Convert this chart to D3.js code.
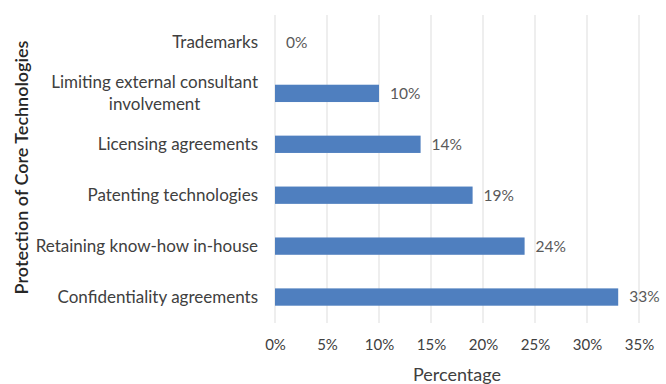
<!DOCTYPE html>
<html>
<head>
<meta charset="utf-8">
<script src="https://cdn.jsdelivr.net/npm/d3@7"></script>
<style>
  html, body { margin: 0; padding: 0; background: #ffffff; }
  svg { display: block; }
  text { font-family: Lato, "Open Sans", sans-serif; }
</style>
</head>
<body>
<svg id="chart" width="666" height="384"></svg>
<script>
// Methods used to protect core technologies (share of respondents, %)
const categories = [
  "Trademarks",
  "Limiting external consultant involvement",
  "Licensing agreements",
  "Patenting technologies",
  "Retaining know-how in-house",
  "Confidentiality agreements"
];
const categoryLines = [
  ["Trademarks"],
  ["Limiting external consultant", "involvement"],
  ["Licensing agreements"],
  ["Patenting technologies"],
  ["Retaining know-how in-house"],
  ["Confidentiality agreements"]
];
const values = [0, 10, 14, 19, 24, 33];
const xTicks = [0, 5, 10, 15, 20, 25, 30, 35];
const xTitle = "Percentage";
const yTitle = "Protection of Core Technologies";

const svg = d3.select("#chart");
const plotLeft = 275, plotRight = 639, plotTop = 17, plotBottom = 322.5;

const x = d3.scaleLinear().domain([0, 35]).range([plotLeft, plotRight]);
const y = d3.scaleBand().domain(categories).range([plotTop, plotBottom])
  .paddingInner(0.66).paddingOuter(0.33);

// vertical gridlines
svg.append("g").selectAll("line").data(xTicks).join("line")
  .attr("x1", d => x(d)).attr("x2", d => x(d))
  .attr("y1", 15).attr("y2", 323)
  .attr("stroke", "#e3e3e3").attr("stroke-width", 1.2);

// x-axis tick labels
const xAxis = d3.axisBottom(x).tickValues(xTicks).tickSize(0).tickPadding(0)
  .tickFormat(d => d + "%");
const gx = svg.append("g").attr("transform", "translate(0,339)").call(xAxis);
gx.select(".domain").remove();
gx.selectAll("text").attr("font-size", 15).attr("fill", "#404040")
  .attr("font-family", "Lato, 'Open Sans', sans-serif");

// bars
svg.append("g").selectAll("rect").data(values).join("rect")
  .attr("x", x(0))
  .attr("y", (d, i) => y(categories[i]))
  .attr("width", d => x(d) - x(0))
  .attr("height", y.bandwidth())
  .attr("fill", "#4f7fbf");

// value labels
svg.append("g").selectAll("text").data(values).join("text")
  .attr("x", d => x(d) + 11)
  .attr("y", (d, i) => y(categories[i]) + y.bandwidth() / 2)
  .attr("dy", "0.35em")
  .attr("font-size", 15.5)
  .attr("fill", "#595959")
  .text(d => d + "%");

// category labels (wrapped lines are centred under the first line)
const catG = svg.append("g");
const labelRight = 258;
categories.forEach((c, i) => {
  const lines = categoryLines[i];
  const cy = y(c) + y.bandwidth() / 2;
  const lh = 22;
  const g = catG.append("g");
  const first = g.append("text")
    .attr("text-anchor", "end")
    .attr("font-size", 17)
    .attr("fill", "#404040")
    .attr("x", labelRight)
    .attr("y", cy - (lines.length - 1) / 2 * lh)
    .attr("dy", "0.35em")
    .text(lines[0]);
  const w = first.node().getComputedTextLength();
  lines.slice(1).forEach((ln, k) => {
    g.append("text")
      .attr("text-anchor", "middle")
      .attr("font-size", 17)
      .attr("fill", "#404040")
      .attr("x", labelRight - w / 2)
      .attr("y", cy + (k + 1 - (lines.length - 1) / 2) * lh)
      .attr("dy", "0.35em")
      .text(ln);
  });
});

// axis titles
svg.append("text")
  .attr("x", (plotLeft + plotRight) / 2).attr("y", 381)
  .attr("text-anchor", "middle")
  .attr("font-size", 18).attr("fill", "#404040")
  .text(xTitle);

svg.append("text")
  .attr("transform", `translate(28,167.5) rotate(-90)`)
  .attr("text-anchor", "middle")
  .attr("font-size", 18).attr("font-weight", 600).attr("fill", "#262626")
  .text(yTitle);
</script>
</body>
</html>
